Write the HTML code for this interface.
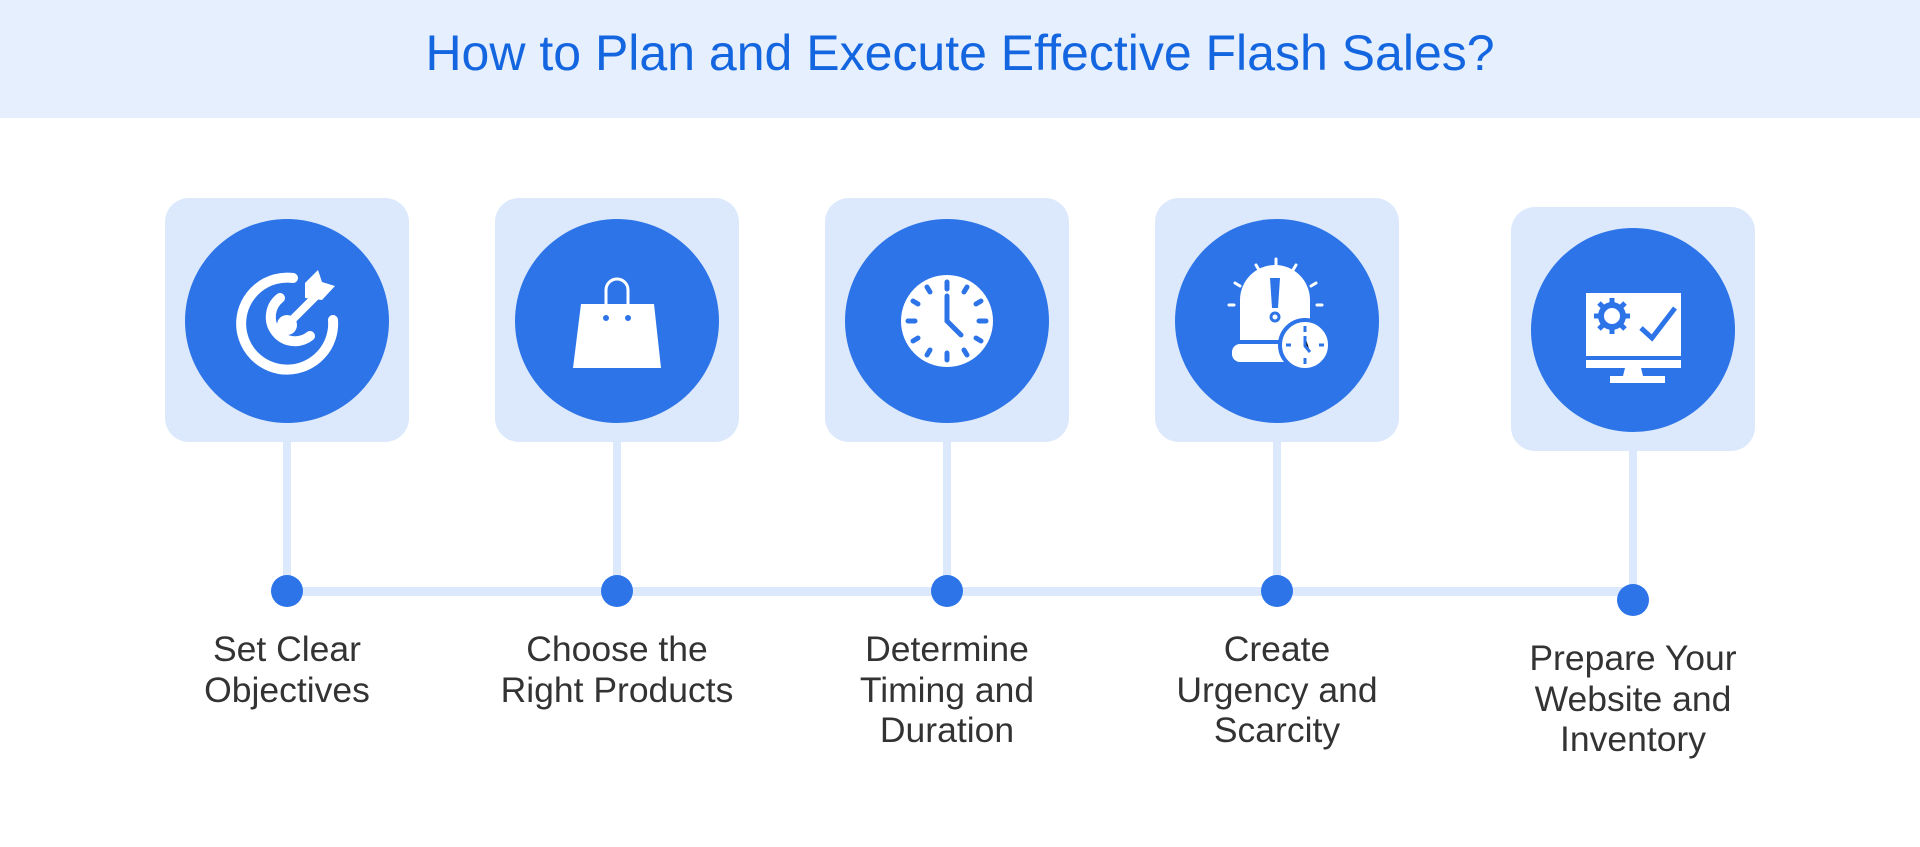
<!DOCTYPE html>
<html><head><meta charset="utf-8"><style>
body{margin:0;width:1920px;height:847px;background:#fff;overflow:hidden;font-family:"Liberation Sans",sans-serif;position:relative}
.hdr{position:absolute;left:0;top:0;width:1920px;height:118px;background:#e6effd}
.title{position:absolute;left:0;top:0;width:1920px;line-height:106px;text-align:center;font-size:50px;color:#1466e0}
.lbl{position:absolute;width:340px;text-align:center;font-size:35.5px;line-height:40.5px;color:#333}
</style></head><body>
<div class="hdr"></div>
<div class="title">How to Plan and Execute Effective Flash Sales?</div>
<svg width="1920" height="847" style="position:absolute;left:0;top:0">
<g fill="#dce8fc">
<rect x="283" y="420" width="8" height="171"/>
<rect x="613" y="420" width="8" height="171"/>
<rect x="943" y="420" width="8" height="171"/>
<rect x="1273" y="420" width="8" height="171"/>
<rect x="1629" y="430" width="8" height="170"/>
<rect x="287" y="587" width="1346" height="9"/>
<rect x="165" y="198" width="244" height="244" rx="24"/>
<rect x="495" y="198" width="244" height="244" rx="24"/>
<rect x="825" y="198" width="244" height="244" rx="24"/>
<rect x="1155" y="198" width="244" height="244" rx="24"/>
<rect x="1511" y="207" width="244" height="244" rx="24"/>
</g>
<g fill="#2c74e8">
<circle cx="287" cy="321" r="102"/><circle cx="617" cy="321" r="102"/>
<circle cx="947" cy="321" r="102"/><circle cx="1277" cy="321" r="102"/>
<circle cx="1633" cy="330" r="102"/>
<circle cx="287" cy="591" r="16"/><circle cx="617" cy="591" r="16"/>
<circle cx="947" cy="591" r="16"/><circle cx="1277" cy="591" r="16"/>
<circle cx="1633" cy="600" r="16"/>
</g>
<!-- target -->
<g stroke="#fff" fill="none" stroke-width="10" stroke-linecap="round">
<path d="M293 278 A46 46 0 1 0 333 320"/>
<path d="M280 298 A24 24 0 1 0 310 336"/>
</g>
<circle cx="287" cy="325" r="10" fill="#fff"/>
<path d="M287 325 L320 292" stroke="#fff" stroke-width="8"/>
<path d="M305 298 L305 283 L318 270 L322 282 L335 286 L322 300 Z" fill="#fff"/>
<!-- bag -->
<path d="M581 304 L654 304 L661 368 L573 368 Z" fill="#fff"/>
<path d="M606 317 L606 290 A11 11 0 0 1 628 290 L628 317" stroke="#fff" stroke-width="3" fill="none"/>
<circle cx="606" cy="318" r="4" fill="#2c74e8" stroke="#fff" stroke-width="2"/>
<circle cx="628" cy="318" r="4" fill="#2c74e8" stroke="#fff" stroke-width="2"/>
<!-- clock -->
<circle cx="947" cy="321" r="46" fill="#fff"/>
<g stroke="#2c74e8" stroke-width="5" stroke-linecap="round">
<path d="M947 282v7M947 353v7M908 321h7M979 321h7M927 287l3 5M967 287l-3 5M927 355l3-5M967 355l-3-5M913 301l5 3M981 301l-5 3M913 341l5-3M981 341l-5-3"/>
<path d="M947 296v25l14 14" fill="none"/>
</g>
<!-- alarm -->
<g fill="#fff">
<path d="M1240 340 L1240 300 A35 35 0 0 1 1310 300 L1310 340 Z"/>
<rect x="1232" y="344" width="62" height="18" rx="8"/>
<circle cx="1305" cy="345" r="25" stroke="#2c74e8" stroke-width="4"/>
</g>
<g stroke="#fff" stroke-width="3" stroke-linecap="round">
<path d="M1276 259v6M1256 265l3 5M1296 265l-3 5M1235 283l5 3M1316 283l-5 3M1229 305h5M1317 305h5"/>
</g>
<path d="M1270 278h10l-2 30h-6z" fill="#2c74e8"/>
<circle cx="1275" cy="317" r="4" fill="none" stroke="#2c74e8" stroke-width="3"/>
<g stroke="#2c74e8" stroke-width="3"><path d="M1305 326v6M1305 358v6M1286 345h5M1319 345h5M1305 336v10l5 6"/></g>
<!-- monitor -->
<rect x="1586" y="293" width="95" height="63" fill="#fff"/>
<rect x="1586" y="360" width="95" height="8" fill="#fff"/>
<path d="M1625 368h16l2 8h-20z" fill="#fff"/>
<rect x="1610" y="376" width="55" height="7" fill="#fff"/>
<circle cx="1612" cy="316" r="14" fill="#2c74e8"/><circle cx="1612" cy="316" r="8" fill="#fff"/>
<g stroke="#2c74e8" stroke-width="5"><path d="M1612 298v36M1594 316h36M1599 303l26 26M1625 303l-26 26"/></g>
<circle cx="1612" cy="316" r="8" fill="#fff"/>
<path d="M1641 328l11 10l23-30" stroke="#2c74e8" stroke-width="5" fill="none"/>
</svg>
<div class="lbl" style="left:117px;top:629px">Set Clear<br>Objectives</div>
<div class="lbl" style="left:447px;top:629px">Choose the<br>Right Products</div>
<div class="lbl" style="left:777px;top:629px">Determine<br>Timing and<br>Duration</div>
<div class="lbl" style="left:1107px;top:629px">Create<br>Urgency and<br>Scarcity</div>
<div class="lbl" style="left:1463px;top:638px">Prepare Your<br>Website and<br>Inventory</div>
</body></html>
